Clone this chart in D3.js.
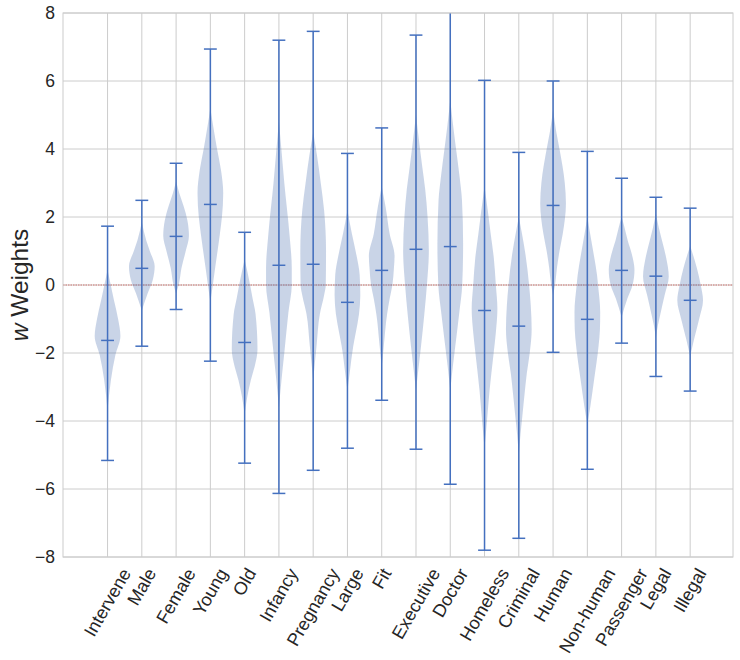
<!DOCTYPE html>
<html lang="en">
<head>
<meta charset="UTF-8">
<title>w Weights violin plot</title>
<script src="https://d3js.org/d3.v7.min.js"></script>
<style>
    body { margin: 0; background: #ffffff; }
    svg { display: block; font-family: "Liberation Sans", Arial, sans-serif; }
</style>
</head>
<body>
<svg id="chart" width="740" height="660"></svg>
<script>
// categories on the x axis
const categories = ["Intervene", "Male", "Female", "Young", "Old", "Infancy", "Pregnancy", "Large", "Fit",
    "Executive", "Doctor", "Homeless", "Criminal", "Human", "Non-human", "Passenger", "Legal", "Illegal"];

// extremes and medians
const maxValues = [1.73, 2.49, 3.58, 6.94, 1.55, 7.20, 7.46, 3.87, 4.62, 7.35, 8.30, 6.02, 3.90, 6.00, 3.93, 3.14, 2.58, 2.26];
const medians   = [-1.63, 0.49, 1.43, 2.37, -1.69, 0.58, 0.61, -0.51, 0.43, 1.05, 1.13, -0.75, -1.21, 2.34, -1.01, 0.43, 0.26, -0.45];
const minValues = [-5.16, -1.80, -0.72, -2.24, -5.24, -6.13, -5.45, -4.80, -3.39, -4.83, -5.86, -7.80, -7.45, -1.98, -5.42, -1.71, -2.69, -3.12];

// violin outlines: [value, relative half-width] pairs, top to bottom
const profiles = [
    [[0.45,0],[0,0.25],[-0.45,0.5],[-1,0.82],[-1.5,1],[-2.06,0.61],[-2.8,0.26],[-3.7,0]],
    [[1.85,0],[1.3,0.35],[1.0,0.62],[0.55,1],[0.15,0.85],[-0.25,0.45],[-0.75,0]],
    [[3.05,0],[2.7,0.25],[2.3,0.6],[1.9,0.88],[1.45,1],[1.0,0.75],[0.5,0.42],[0,0.2],[-0.25,0]],
    [[5.2,0],[4.6,0.25],[4.0,0.52],[3.4,0.82],[2.7,1],[2.0,0.9],[1.5,0.74],[0.55,0.39],[0,0.19],[-0.5,0]],
    [[0.75,0],[0.15,0.35],[-0.4,0.62],[-0.85,0.85],[-1.9,1],[-2.4,0.78],[-2.8,0.48],[-3.3,0.2],[-3.8,0]],
    [[4.8,0],[4.0,0.19],[3.0,0.42],[1.5,0.82],[0.5,1],[0,1],[-0.8,0.74],[-2.0,0.42],[-2.8,0.2],[-3.6,0]],
    [[4.5,0],[3.8,0.3],[3.0,0.59],[2.2,0.85],[1.0,1],[0,0.98],[-0.3,0.85],[-0.85,0.52],[-1.8,0.26],[-2.8,0]],
    [[2.2,0],[1.5,0.35],[0.9,0.69],[0.3,0.95],[-0.3,1],[-0.85,0.9],[-1.4,0.65],[-1.8,0.45],[-2.6,0.17],[-3.1,0]],
    [[2.9,0],[2.3,0.3],[1.5,0.62],[0.85,1],[0.5,0.95],[0,0.83],[-0.4,0.62],[-0.85,0.42],[-1.8,0.16],[-2.4,0]],
    [[5.0,0],[4.2,0.25],[3.5,0.48],[2.8,0.72],[2.0,0.9],[1.0,1],[0,0.85],[-0.85,0.65],[-1.8,0.39],[-2.5,0.18],[-3.1,0]],
    [[5.45,0],[4.6,0.25],[4.0,0.45],[3.2,0.72],[2.5,0.91],[1.2,1],[0,0.93],[-0.85,0.69],[-1.8,0.39],[-2.4,0.2],[-3.1,0]],
    [[2.9,0],[2.2,0.25],[1.5,0.48],[0.8,0.72],[0,0.88],[-0.7,1],[-1.4,0.88],[-2.0,0.71],[-3.1,0.39],[-4.0,0.19],[-4.8,0]],
    [[2.0,0],[1.5,0.25],[0.9,0.52],[0,0.8],[-0.6,0.93],[-1.3,1],[-2.0,0.85],[-2.6,0.62],[-3.2,0.45],[-3.8,0.29],[-4.4,0.13],[-5.0,0]],
    [[5.15,0],[4.5,0.25],[4.0,0.5],[3.0,0.91],[2.4,1],[1.5,0.75],[1.0,0.5],[0.5,0.3],[0,0.15],[-0.3,0]],
    [[2.0,0],[1.5,0.22],[1.0,0.45],[0.3,0.75],[0,0.83],[-0.8,1],[-1.3,0.98],[-1.8,0.87],[-2.8,0.52],[-3.6,0.22],[-4.1,0]],
    [[2.0,0],[1.7,0.22],[1.3,0.48],[0.9,0.8],[0.45,1],[0,0.85],[-0.4,0.45],[-0.95,0]],
    [[2.1,0],[1.7,0.22],[1.3,0.48],[0.8,0.8],[0.25,1],[-0.3,0.68],[-0.85,0.35],[-1.2,0.15],[-1.55,0]],
    [[1.15,0],[0.5,0.52],[0,0.82],[-0.45,1],[-1.0,0.7],[-1.6,0.3],[-2.1,0]]
];

const yTicks = [-8, -6, -4, -2, 0, 2, 4, 6, 8];

const margin = { top: 13, right: 7, bottom: 103, left: 63 };
const width = 740, height = 660;
const svg = d3.select("#chart");

const x = d3.scaleLinear().domain([-0.3, 19.25]).range([margin.left, width - margin.right]);
const y = d3.scaleLinear().domain([-8, 8]).range([height - margin.bottom, margin.top]);
const unit = x(1) - x(0);
const violinWidth = 0.75;
const halfW = unit * violinWidth / 2;
const capW = unit * violinWidth / 4;

const blue = "#4C72B0";
const lineBlue = "#4470bf";

// grid
svg.append("g").selectAll("line.gy").data(yTicks).enter().append("line")
    .attr("x1", margin.left).attr("x2", width - margin.right)
    .attr("y1", d => y(d)).attr("y2", d => y(d))
    .attr("stroke", "#cccccc").attr("stroke-width", 1);
svg.append("g").selectAll("line.gx").data(categories).enter().append("line")
    .attr("x1", (d, i) => x(i + 1)).attr("x2", (d, i) => x(i + 1))
    .attr("y1", margin.top).attr("y2", height - margin.bottom)
    .attr("stroke", "#cccccc").attr("stroke-width", 1);

// zero line
svg.append("line")
    .attr("x1", margin.left).attr("x2", width - margin.right)
    .attr("y1", y(0)).attr("y2", y(0))
    .attr("stroke", "#c8443a").attr("stroke-width", 0.7).attr("stroke-dasharray", "1.5,1");

const plot = svg.append("g");
svg.append("clipPath").attr("id", "clip").append("rect")
    .attr("x", margin.left).attr("y", margin.top)
    .attr("width", width - margin.left - margin.right)
    .attr("height", height - margin.top - margin.bottom);
plot.attr("clip-path", "url(#clip)");

// violin bodies
const area = d3.area()
    .y(d => y(d[0]))
    .curve(d3.curveMonotoneY);

profiles.forEach((p, i) => {
    const cx = x(i + 1);
    plot.append("path")
        .datum(p)
        .attr("d", area.x0(d => cx - d[1] * halfW).x1(d => cx + d[1] * halfW))
        .attr("fill", blue).attr("fill-opacity", 0.3);
});

// stats lines: bars, caps, medians
categories.forEach((c, i) => {
    const cx = x(i + 1);
    const g = plot.append("g").attr("stroke", lineBlue).attr("stroke-width", 1.5);
    g.append("line").attr("x1", cx).attr("x2", cx).attr("y1", y(maxValues[i])).attr("y2", y(minValues[i]));
    [maxValues[i], medians[i], minValues[i]].forEach(v => {
        g.append("line").attr("x1", cx - capW).attr("x2", cx + capW).attr("y1", y(v)).attr("y2", y(v));
    });
});

// frame
svg.append("rect")
    .attr("x", margin.left).attr("y", margin.top)
    .attr("width", width - margin.left - margin.right)
    .attr("height", height - margin.top - margin.bottom)
    .attr("fill", "none").attr("stroke", "#cccccc").attr("stroke-width", 1);

// y tick labels
svg.append("g").selectAll("text").data(yTicks).enter().append("text")
    .attr("x", margin.left - 8).attr("y", d => y(d))
    .attr("text-anchor", "end").attr("dominant-baseline", "central")
    .attr("font-size", 17.5).attr("fill", "#262626")
    .text(d => d < 0 ? "\u2212" + Math.abs(d) : d);

// x tick labels, rotated 60deg, bbox centred under tick
const fs = 18;
const rad = 60 * Math.PI / 180;
svg.append("g").selectAll("text").data(categories).enter().append("text")
    .attr("font-size", fs).attr("fill", "#262626")
    .attr("text-anchor", "middle").attr("dominant-baseline", "central")
    .text(d => d)
    .each(function (d, i) {
        const L = this.getComputedTextLength();
        const bh = L * Math.sin(rad) + fs * 1.1 * Math.cos(rad);
        const tx = x(i + 1);
        const ty = height - margin.bottom + 8 + bh / 2;
        d3.select(this).attr("transform", `translate(${tx},${ty}) rotate(-60)`);
    });

// y axis label
svg.append("text")
    .attr("transform", `translate(19,${y(0)}) rotate(-90)`)
    .attr("text-anchor", "middle").attr("dominant-baseline", "central")
    .attr("font-size", 24.5).attr("fill", "#262626")
    .html('<tspan font-style="italic">w</tspan> Weights');
</script>
</body>
</html>
